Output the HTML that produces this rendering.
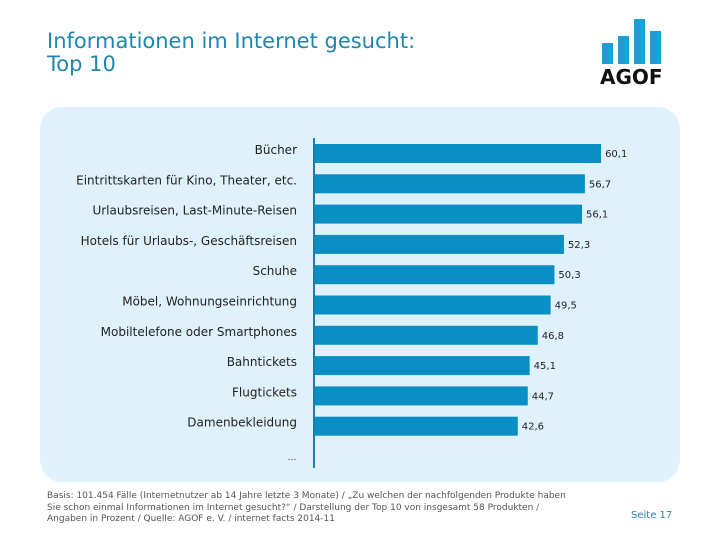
<!DOCTYPE html>
<html><head><meta charset="utf-8"><style>
body{margin:0;width:720px;height:540px;background:#fff;font-family:"DejaVu Sans","Liberation Sans",sans-serif;position:relative;overflow:hidden}
.title{position:absolute;left:47px;top:30px;font-size:21px;line-height:23px;color:#1f86ad;font-family:"DejaVu Sans",sans-serif}
.panel{position:absolute;left:40px;top:107px;width:640px;height:375px;background:#dff2fc;border-radius:22px}
.foot{position:absolute;left:47px;top:491px;font-size:9px;line-height:11.5px;color:#555}
.page{position:absolute;left:631px;top:510px;font-size:10px;color:#1f86ad}
</style></head><body>
<div class="title">Informationen im Internet gesucht:<br>Top 10</div>
<svg style="position:absolute;left:598px;top:16px" width="80" height="72">
<rect x="4" y="27" width="11" height="21" fill="#1a9fd6"/>
<rect x="20" y="20" width="11" height="28" fill="#1a9fd6"/>
<rect x="36" y="3" width="11" height="45" fill="#1a9fd6"/>
<rect x="52" y="15" width="11" height="33" fill="#1a9fd6"/>
<text x="2" y="68" font-family="DejaVu Sans" font-weight="bold" font-size="20" fill="#111">AGOF</text>
</svg>
<div class="panel"></div>
<svg id="chart" style="position:absolute;left:0;top:0" width="720" height="540"></svg>
<div class="foot">Basis: 101.454 Fälle (Internetnutzer ab 14 Jahre letzte 3 Monate) / „Zu welchen der nachfolgenden Produkte haben<br>Sie schon einmal Informationen im Internet gesucht?“ / Darstellung der Top 10 von insgesamt 58 Produkten /<br>Angaben in Prozent / Quelle: AGOF e. V. / internet facts 2014-11</div>
<div class="page">Seite 17</div>
<script>
const categories=["Bücher","Eintrittskarten für Kino, Theater, etc.","Urlaubsreisen, Last-Minute-Reisen","Hotels für Urlaubs-, Geschäftsreisen","Schuhe","Möbel, Wohnungseinrichtung","Mobiltelefone oder Smartphones","Bahntickets","Flugtickets","Damenbekleidung"];
const values=[60.1,56.7,56.1,52.3,50.3,49.5,46.8,45.1,44.7,42.6];
const ns="http://www.w3.org/2000/svg",svg=document.getElementById('chart');
const x0=315,scale=4.76,y0=144,pitch=30.3,bh=19;
const xs=v=>x0+v*scale, ys=i=>y0+i*pitch;
function mk(t,a){const e=document.createElementNS(ns,t);for(const k in a)e.setAttribute(k,a[k]);svg.appendChild(e);return e;}
values.forEach((v,i)=>{
 const r=mk('rect',{x:x0,y:ys(i),width:xs(v)-x0,height:bh,fill:'#0a8fc4'});
 
 
 const l=mk('text',{x:297,y:ys(i)+10,'text-anchor':'end','font-size':12,fill:'#222','font-family':'DejaVu Sans, sans-serif'});
 l.textContent=categories[i];
 
 
 const t=mk('text',{x:xs(v)+4,y:ys(i)+13,'font-size':10,fill:'#222','font-family':'DejaVu Sans, sans-serif'});
 t.textContent=v.toFixed(1).replace('.',',');
 
 
});
const ax=mk('line',{x1:314,y1:138,x2:314,y2:468,stroke:'#1a7fa8','stroke-width':2});


const d=mk('text',{x:292,y:460,'text-anchor':'middle','font-size':9,fill:'#333'});d.textContent='…';


</script>
</body></html>
